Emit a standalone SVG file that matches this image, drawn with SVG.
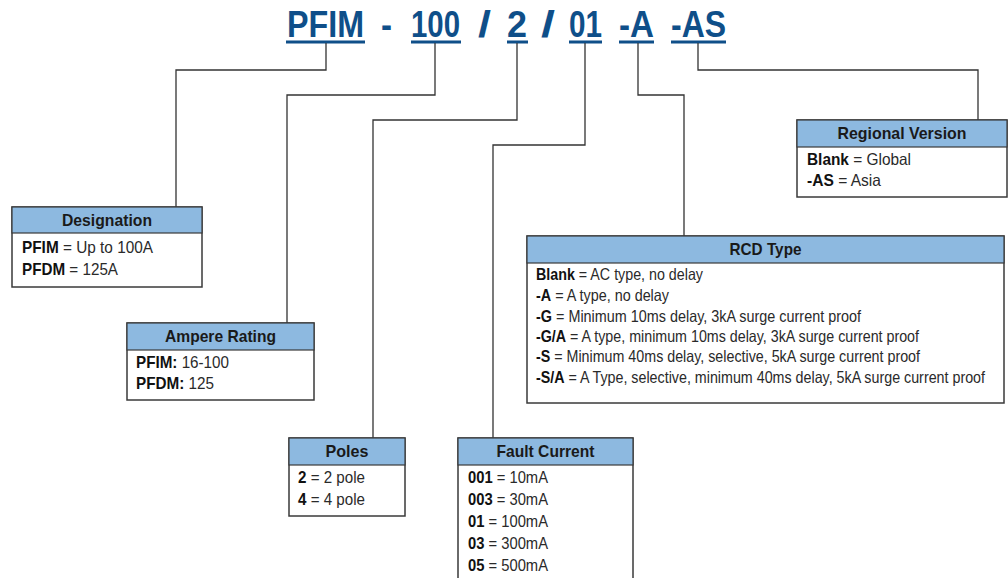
<svg xmlns="http://www.w3.org/2000/svg" width="1008" height="578" viewBox="0 0 1008 578">
<style>
.title{font-family:"Liberation Sans Narrow","Liberation Sans",Arial,sans-serif;font-weight:bold;font-size:37px;fill:#0f4f89}
.ul{fill:#0f4f89}
.box{fill:#ffffff;stroke:#3a3a3a;stroke-width:1.5}
.hdr{fill:#8db9e0;stroke:#3a3a3a;stroke-width:1.2}
.ht{font-family:"Liberation Sans Narrow","Liberation Sans",Arial,sans-serif;font-weight:bold;font-size:17px;fill:#1a1a1a;text-anchor:middle}
.bt{font-family:"Liberation Sans Narrow","Liberation Sans",Arial,sans-serif;font-size:16.5px;fill:#2a2a2a}
.b{font-weight:bold;fill:#111}
.con{fill:none;stroke:#333;stroke-width:1.3}
</style>
<g id="title">
<text class="title" x="287" y="37" textLength="77" lengthAdjust="spacingAndGlyphs">PFIM</text>
<text class="title" x="381" y="37" textLength="11" lengthAdjust="spacingAndGlyphs">-</text>
<text class="title" x="411" y="37" textLength="49" lengthAdjust="spacingAndGlyphs">100</text>
<text class="title" x="478" y="37" textLength="13" lengthAdjust="spacingAndGlyphs">/</text>
<text class="title" x="507" y="37" textLength="20" lengthAdjust="spacingAndGlyphs">2</text>
<text class="title" x="541" y="37" textLength="14" lengthAdjust="spacingAndGlyphs">/</text>
<text class="title" x="569" y="37" textLength="33" lengthAdjust="spacingAndGlyphs">01</text>
<text class="title" x="619" y="37" textLength="35" lengthAdjust="spacingAndGlyphs">-A</text>
<text class="title" x="671" y="37" textLength="55" lengthAdjust="spacingAndGlyphs">-AS</text>
<rect class="ul" x="286" y="40.5" width="79" height="3"/>
<rect class="ul" x="411" y="40.5" width="50" height="3"/>
<rect class="ul" x="507" y="40.5" width="21" height="3"/>
<rect class="ul" x="569" y="40.5" width="33" height="3"/>
<rect class="ul" x="619" y="40.5" width="35" height="3"/>
<rect class="ul" x="671" y="40.5" width="55" height="3"/>
</g>
<g id="connectors">
<polyline class="con" points="326,43 326,70 176,70 176,207"/>
<polyline class="con" points="435,43 435,95 287,95 287,323"/>
<polyline class="con" points="517,43 517,120 373,120 373,438"/>
<polyline class="con" points="585,43 585,145 493,145 493,438"/>
<polyline class="con" points="638,43 638,95 684,95 684,236"/>
<polyline class="con" points="698,43 698,70 978,70 978,120"/>
</g>
<g id="designation">
<rect class="box" x="12" y="207" width="190" height="80"/>
<rect class="hdr" x="12" y="207" width="190" height="26"/>
<text class="ht" x="107" y="226" textLength="90" lengthAdjust="spacingAndGlyphs">Designation</text>
<text class="bt" x="22" y="253" textLength="131" lengthAdjust="spacingAndGlyphs"><tspan class="b">PFIM</tspan> = Up to 100A</text>
<text class="bt" x="22" y="275" textLength="96" lengthAdjust="spacingAndGlyphs"><tspan class="b">PFDM</tspan> = 125A</text>
</g>
<g id="ampere-rating">
<rect class="box" x="127" y="323" width="187" height="77"/>
<rect class="hdr" x="127" y="323" width="187" height="27"/>
<text class="ht" x="220.5" y="342" textLength="111" lengthAdjust="spacingAndGlyphs">Ampere Rating</text>
<text class="bt" x="136" y="368" textLength="93" lengthAdjust="spacingAndGlyphs"><tspan class="b">PFIM:</tspan> 16-100</text>
<text class="bt" x="136" y="389" textLength="78" lengthAdjust="spacingAndGlyphs"><tspan class="b">PFDM:</tspan> 125</text>
</g>
<g id="poles">
<rect class="box" x="289" y="438" width="116" height="78"/>
<rect class="hdr" x="289" y="438" width="116" height="27"/>
<text class="ht" x="347" y="457" textLength="43" lengthAdjust="spacingAndGlyphs">Poles</text>
<text class="bt" x="298" y="483" textLength="67" lengthAdjust="spacingAndGlyphs"><tspan class="b">2</tspan> = 2 pole</text>
<text class="bt" x="298" y="505" textLength="67" lengthAdjust="spacingAndGlyphs"><tspan class="b">4</tspan> = 4 pole</text>
</g>
<g id="fault-current">
<rect class="box" x="458" y="438" width="175" height="160"/>
<rect class="hdr" x="458" y="438" width="175" height="27"/>
<text class="ht" x="545.5" y="457" textLength="98" lengthAdjust="spacingAndGlyphs">Fault Current</text>
<text class="bt" x="468" y="483" textLength="80" lengthAdjust="spacingAndGlyphs"><tspan class="b">001</tspan> = 10mA</text>
<text class="bt" x="468" y="505" textLength="80" lengthAdjust="spacingAndGlyphs"><tspan class="b">003</tspan> = 30mA</text>
<text class="bt" x="468" y="527" textLength="80" lengthAdjust="spacingAndGlyphs"><tspan class="b">01</tspan> = 100mA</text>
<text class="bt" x="468" y="549" textLength="80" lengthAdjust="spacingAndGlyphs"><tspan class="b">03</tspan> = 300mA</text>
<text class="bt" x="468" y="571" textLength="80" lengthAdjust="spacingAndGlyphs"><tspan class="b">05</tspan> = 500mA</text>
</g>
<g id="rcd-type">
<rect class="box" x="527" y="236" width="477" height="167"/>
<rect class="hdr" x="527" y="236" width="477" height="27"/>
<text class="ht" x="765.5" y="255" textLength="72" lengthAdjust="spacingAndGlyphs">RCD Type</text>
<text class="bt" x="536" y="280" textLength="167" lengthAdjust="spacingAndGlyphs"><tspan class="b">Blank</tspan> = AC type, no delay</text>
<text class="bt" x="536" y="301" textLength="133" lengthAdjust="spacingAndGlyphs"><tspan class="b">-A</tspan> = A type, no delay</text>
<text class="bt" x="536" y="322" textLength="325" lengthAdjust="spacingAndGlyphs"><tspan class="b">-G</tspan> = Minimum  10ms delay, 3kA surge current proof</text>
<text class="bt" x="536" y="342" textLength="383" lengthAdjust="spacingAndGlyphs"><tspan class="b">-G/A</tspan> = A type, minimum 10ms delay, 3kA surge current proof</text>
<text class="bt" x="536" y="362" textLength="384" lengthAdjust="spacingAndGlyphs"><tspan class="b">-S</tspan> = Minimum 40ms delay, selective, 5kA surge current proof</text>
<text class="bt" x="536" y="383" textLength="449" lengthAdjust="spacingAndGlyphs"><tspan class="b">-S/A</tspan> = A Type, selective, minimum 40ms delay, 5kA surge current proof</text>
</g>
<g id="regional-version">
<rect class="box" x="797" y="120" width="210" height="77"/>
<rect class="hdr" x="797" y="120" width="210" height="27"/>
<text class="ht" x="902" y="139" textLength="129" lengthAdjust="spacingAndGlyphs">Regional Version</text>
<text class="bt" x="807" y="165" textLength="104" lengthAdjust="spacingAndGlyphs"><tspan class="b">Blank</tspan> = Global</text>
<text class="bt" x="807" y="186" textLength="74" lengthAdjust="spacingAndGlyphs"><tspan class="b">-AS</tspan> = Asia</text>
</g>
</svg>
